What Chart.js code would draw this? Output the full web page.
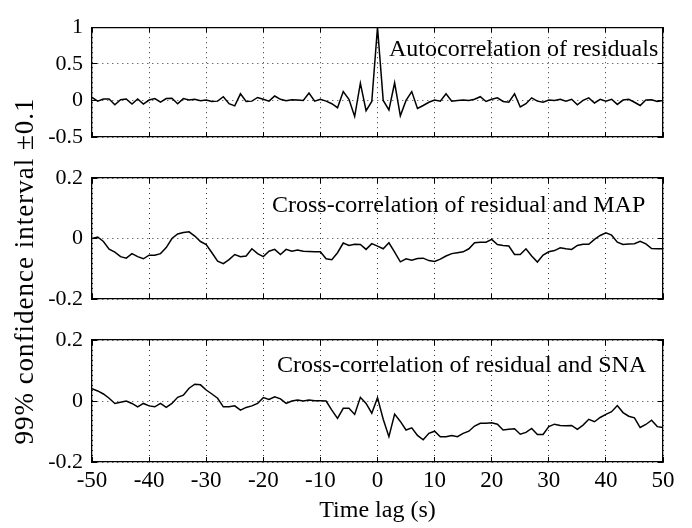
<!DOCTYPE html>
<html>
<head>
<meta charset="utf-8">
<script src="https://cdn.jsdelivr.net/npm/chart.js@4"></script>
<style>
  html, body { margin: 0; padding: 0; background: #fff; }
  #fig { position: relative; width: 692px; height: 528px; }
  #fig canvas { position: absolute; left: 0; top: 0; }
</style>
</head>
<body>
<div id="fig">
  <canvas id="cAuto" width="692" height="528"></canvas>
  <canvas id="cMap" width="692" height="528"></canvas>
  <canvas id="cSna" width="692" height="528"></canvas>
</div>
<script>
// ── data ─────────────────────────────────────
const lags = [
  -50, -49, -48, -47, -46, -45, -44, -43, -42, -41,
  -40, -39, -38, -37, -36, -35, -34, -33, -32, -31,
  -30, -29, -28, -27, -26, -25, -24, -23, -22, -21,
  -20, -19, -18, -17, -16, -15, -14, -13, -12, -11,
  -10, -9, -8, -7, -6, -5, -4, -3, -2, -1,
  0,
  1, 2, 3, 4, 5, 6, 7, 8, 9, 10,
  11, 12, 13, 14, 15, 16, 17, 18, 19, 20,
  21, 22, 23, 24, 25, 26, 27, 28, 29, 30,
  31, 32, 33, 34, 35, 36, 37, 38, 39, 40,
  41, 42, 43, 44, 45, 46, 47, 48, 49, 50
];

const autoCorr = [
  0.04, -0.01, 0.02, 0.02, -0.06, 0.01, 0.02, -0.05, 0.02, -0.05,
  0.005, 0.025, -0.025, 0.025, 0.03, -0.045, 0.025, 0.005, 0.015, -0.005,
  0.005, -0.015, -0.01, 0.05, -0.045, -0.075, 0.09, -0.015, -0.01, 0.04,
  0.015, -0.01, 0.06, 0.015, -0.005, 0.01, 0.005, 0, 0.1, -0.01,
  0.015, -0.01, -0.045, -0.1, 0.12, 0.015, -0.22, 0.235, -0.14, -0.015,
  1.0,
  0, -0.13, 0.24, -0.21, 0, 0.12, -0.11, -0.07, -0.025, 0.005,
  -0.01, 0.09, -0.01, 0, 0.005, 0, 0.015, 0.05, -0.015, 0.015,
  0.035, -0.015, -0.025, 0.09, -0.09, -0.045, 0.035, -0.01, -0.025, 0.005,
  0, 0.015, -0.01, 0.015, -0.06, 0, 0.035, -0.035, 0.015, -0.01,
  0.015, -0.055, 0.005, 0.015, -0.025, -0.07, 0.005, 0.01, -0.015, 0
];

const xcorrMap = [
  0, 0.005, -0.01, -0.035, -0.045, -0.06, -0.065, -0.05, -0.06, -0.067,
  -0.055, -0.055, -0.05, -0.03, 0, 0.015, 0.02, 0.022, 0.008, -0.01,
  -0.02, -0.047, -0.075, -0.083, -0.07, -0.053, -0.06, -0.058, -0.034, -0.05,
  -0.06, -0.042, -0.036, -0.053, -0.036, -0.042, -0.038, -0.042, -0.043, -0.044,
  -0.044, -0.067, -0.07, -0.047, -0.015, -0.023, -0.019, -0.02, -0.036, -0.017,
  -0.025,
  -0.034, -0.014, -0.045, -0.077, -0.067, -0.072, -0.066, -0.065, -0.073, -0.076,
  -0.068, -0.058, -0.05, -0.047, -0.044, -0.034, -0.014, -0.012, -0.012, -0.003,
  -0.02, -0.023, -0.025, -0.053, -0.053, -0.034, -0.058, -0.078, -0.055, -0.044,
  -0.04, -0.031, -0.034, -0.036, -0.023, -0.019, -0.019, -0.003, 0.01, 0.019,
  0.011, -0.012, -0.02, -0.018, -0.017, -0.009, -0.018, -0.033, -0.034, -0.034
];

const xcorrSna = [
  0.04, 0.033, 0.023, 0.009, -0.008, -0.004, 0, -0.008, -0.019, -0.008,
  -0.016, -0.019, -0.008, -0.021, -0.008, 0.012, 0.019, 0.042, 0.055, 0.053,
  0.036, 0.023, 0.009, -0.019, -0.019, -0.016, -0.03, -0.021, -0.016, -0.008,
  0.011, 0.005, 0.014, 0.007, -0.008, 0, 0.003, 0, 0.003, 0.001,
  0.001, 0, -0.03, -0.057, -0.024, -0.024, -0.044, 0.012, -0.008, -0.04,
  0.011,
  -0.06, -0.117, -0.043, -0.067, -0.095, -0.088, -0.113, -0.127, -0.106, -0.099,
  -0.117, -0.117, -0.113, -0.117, -0.106, -0.099, -0.082, -0.073, -0.073, -0.071,
  -0.076, -0.095, -0.093, -0.091, -0.109, -0.103, -0.09, -0.11, -0.11, -0.084,
  -0.076, -0.08, -0.081, -0.08, -0.093, -0.079, -0.06, -0.068, -0.054, -0.044,
  -0.035, -0.015, -0.038, -0.05, -0.055, -0.087, -0.077, -0.063, -0.084, -0.087
];

const xTicks     = [-50, -40, -30, -20, -10, 0, 10, 20, 30, 40, 50];
const autoTicks  = [-0.5, 0, 0.5, 1];
const xcorrTicks = [-0.2, 0, 0.2];

const notes  = ['Autocorrelation of residuals', 'Cross-correlation of residual and MAP', 'Cross-correlation of residual and SNA'];
const yTitle = '99% confidence interval \u00b10.1';
const xTitle = 'Time lag (s)';

// ── look ─────────────────────────────────────
const SERIF = "'Liberation Serif', 'Times New Roman', Times, serif";
const W = 692, H = 528;

// text inside the panel, top right
const notePlugin = {
  id: 'note',
  afterDraw(chart, args, o) {
    if (!o.text) return;
    const { ctx, chartArea } = chart;
    ctx.save();
    ctx.font = '24px ' + SERIF;
    ctx.fillStyle = '#000';
    ctx.textAlign = 'left';
    ctx.textBaseline = 'alphabetic';
    ctx.fillText(o.text, o.x, chartArea.top + o.dy);
    ctx.restore();
  }
};

// one y label shared by the three panels
const yTitlePlugin = {
  id: 'yTitle',
  afterDraw(chart) {
    const ctx = chart.ctx;
    ctx.save();
    ctx.translate(33, 271);
    ctx.rotate(-Math.PI / 2);
    ctx.font = '27px ' + SERIF;
    if ('letterSpacing' in ctx) ctx.letterSpacing = '1px';
    ctx.fillStyle = '#000';
    ctx.textAlign = 'center';
    ctx.textBaseline = 'alphabetic';
    ctx.fillText(yTitle, 0, 0);
    ctx.restore();
  }
};

function setTicks(arr) {
  return s => { s.ticks = arr.map(v => ({ value: v })); };
}

function panel(id, values, yTicks, top, bottom, showX, note, extraPlugins) {
  const grid = { color: '#333', tickLength: -5, tickColor: '#000', tickWidth: 1 };
  const border = { display: true, color: '#000', width: 1.3, dash: [1, 4] };
  const hidden = { display: false };
  const yMin = yTicks[0], yMax = yTicks[yTicks.length - 1];

  return new Chart(document.getElementById(id), {
    type: 'line',
    data: {
      labels: lags,
      datasets: [{
        data: values,
        borderColor: '#000',
        borderWidth: 1.5,
        pointRadius: 0,
        tension: 0,
        fill: false,
      }],
    },
    options: {
      responsive: false,
      animation: false,
      events: [],
      layout: { padding: { left: 0, right: 29, top: top, bottom: showX ? 0 : H - bottom } },
      plugins: { legend: hidden, tooltip: { enabled: false }, note: note },
      scales: {
        x: {
          type: 'linear', position: 'bottom', min: -50, max: 50,
          afterBuildTicks: setTicks(xTicks),
          afterFit: s => { s.height = showX ? H - bottom : 0; },
          grid: grid, border: border,
          ticks: {
            display: showX, padding: 10, color: '#000',
            font: { family: SERIF, size: 23 },
            callback: v => String(v),
          },
          title: {
            display: showX, text: xTitle, color: '#000',
            font: { family: SERIF, size: 24 },
            padding: { top: 4, bottom: 3 },
          },
        },
        x2: {
          type: 'linear', position: 'top', min: -50, max: 50,
          afterBuildTicks: setTicks(xTicks),
          afterFit: s => { s.height = 0; },
          grid: { ...grid, drawOnChartArea: false },
          border: { display: true, color: '#000', width: 1.3 },
          ticks: { display: false },
        },
        y: {
          type: 'linear', position: 'left', min: yMin, max: yMax,
          afterBuildTicks: setTicks(yTicks),
          afterFit: s => { s.width = 92; },
          grid: grid, border: border,
          ticks: {
            padding: 14, color: '#000',
            font: { family: SERIF, size: 22 },
            callback: v => String(v),
          },
        },
        y2: {
          type: 'linear', position: 'right', min: yMin, max: yMax,
          afterBuildTicks: setTicks(yTicks),
          afterFit: s => { s.width = 0; },
          grid: { ...grid, drawOnChartArea: false },
          border: { display: true, color: '#000', width: 1.3 },
          ticks: { display: false },
        },
      },
    },
    plugins: [notePlugin].concat(extraPlugins || []),
  });
}

panel('cAuto', autoCorr, autoTicks, 16, 137, false, { text: notes[0], x: 389, dy: 29 }, [yTitlePlugin]);
panel('cMap', xcorrMap, xcorrTicks, 178, 299, false, { text: notes[1], x: 272, dy: 34 });
panel('cSna', xcorrSna, xcorrTicks, 340, 462, true, { text: notes[2], x: 277, dy: 32 });
</script>
</body>
</html>
